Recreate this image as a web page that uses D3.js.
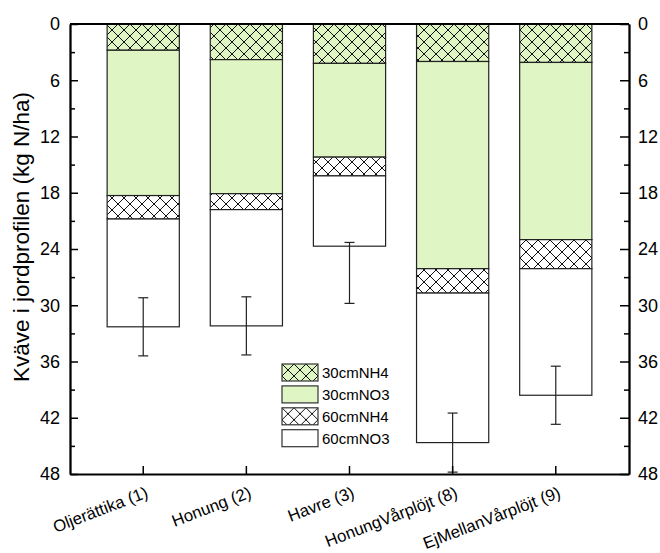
<!DOCTYPE html>
<html>
<head>
<meta charset="utf-8">
<script src="https://cdn.jsdelivr.net/npm/d3@7"></script>
<style>
  body { margin: 0; background: #fff; }
  svg { font-family: "Liberation Sans", Arial, sans-serif; }
</style>
</head>
<body>
<svg id="chart" width="660" height="553"></svg>
<script>
// data (kg N/ha)
var categories = ["Oljerättika (1)", "Honung (2)", "Havre (3)", "HonungVårplöjt (8)", "EjMellanVårplöjt (9)"];
var seriesKeys = ["30cmNH4", "30cmNO3", "60cmNH4", "60cmNO3"];
var nh4_30 = [2.8, 3.8, 4.2, 4.0, 4.1];
var no3_30 = [15.5, 14.3, 10.0, 22.1, 18.9];
var nh4_60 = [2.5, 1.7, 2.0, 2.6, 3.1];
var no3_60 = [11.5, 12.4, 7.5, 15.95, 13.5];
var errCenter = [32.3, 32.2, 26.55, 44.65, 39.6];
var errSd = [3.1, 3.1, 3.25, 3.15, 3.1];
var yTicks = [0, 6, 12, 18, 24, 30, 36, 42, 48];
var yMinorTicks = [3, 9, 15, 21, 27, 33, 39, 45];

var green = "#dff5c3";
var fills = {
  "30cmNH4": "url(#hatchGreen)",
  "30cmNO3": green,
  "60cmNH4": "url(#hatchWhite)",
  "60cmNO3": "#fff"
};

var margin = { top: 24, right: 31, bottom: 79, left: 70 };
var width = 660 - margin.left - margin.right;
var height = 553 - margin.top - margin.bottom;

var svg = d3.select("#chart");

// crosshatch patterns
var defs = svg.append("defs");
[["hatchGreen", green], ["hatchWhite", "#fff"]].forEach(function (p) {
  var pat = defs.append("pattern")
    .attr("id", p[0])
    .attr("patternUnits", "userSpaceOnUse")
    .attr("width", 12)
    .attr("height", 12);
  pat.append("rect").attr("width", 12).attr("height", 12).attr("fill", p[1]);
  pat.append("path")
    .attr("d", "M0,0L12,12M12,0L0,12M-3,9L3,15M9,-3L15,3M-3,3L3,-3M9,15L15,9")
    .attr("stroke", "#111")
    .attr("stroke-width", 1);
});

var g = svg.append("g").attr("transform", "translate(" + margin.left + "," + margin.top + ")");

var table = categories.map(function (c, i) {
  return { cat: c, "30cmNH4": nh4_30[i], "30cmNO3": no3_30[i], "60cmNH4": nh4_60[i], "60cmNO3": no3_60[i] };
});

var stacked = d3.stack().keys(seriesKeys)(table);

var x = d3.scaleBand()
  .domain(categories)
  .range([0, width])
  .paddingInner(0.3)
  .paddingOuter(0.36);

var y = d3.scaleLinear().domain([0, 48]).range([0, height]);

// bars
g.append("g")
  .selectAll("g")
  .data(stacked)
  .join("g")
  .attr("fill", d => fills[d.key])
  .selectAll("rect")
  .data(d => d)
  .join("rect")
  .attr("x", d => x(d.data.cat))
  .attr("y", d => y(d[0]))
  .attr("width", x.bandwidth())
  .attr("height", d => y(d[1]) - y(d[0]))
  .attr("stroke", "#222")
  .attr("stroke-width", 1.2);

// error bars
var err = g.append("g")
  .attr("stroke", "#222")
  .attr("stroke-width", 1.2)
  .selectAll("g")
  .data(categories)
  .join("g")
  .attr("transform", d => "translate(" + (x(d) + x.bandwidth() / 2) + ",0)");

err.append("line")
  .attr("y1", (d, i) => y(errCenter[i] - errSd[i]))
  .attr("y2", (d, i) => y(errCenter[i] + errSd[i]));
err.append("line")
  .attr("x1", -5).attr("x2", 5)
  .attr("y1", (d, i) => y(errCenter[i] - errSd[i]))
  .attr("y2", (d, i) => y(errCenter[i] - errSd[i]));
err.append("line")
  .attr("x1", -5).attr("x2", 5)
  .attr("y1", (d, i) => y(errCenter[i] + errSd[i]))
  .attr("y2", (d, i) => y(errCenter[i] + errSd[i]));

// axes
function styleAxis(sel) {
  sel.select(".domain").attr("stroke", "#000").attr("stroke-width", 1.8);
  sel.selectAll(".tick line").attr("stroke", "#000").attr("stroke-width", 1.5);
  sel.selectAll(".tick text").attr("fill", "#000").style("font-size", "18px")
    .style("font-family", "'Liberation Sans', Arial, sans-serif");
}

g.append("g")
  .call(d3.axisLeft(y).tickValues(yTicks).tickSizeInner(-8).tickSizeOuter(0).tickPadding(10))
  .call(styleAxis);
g.append("g")
  .call(d3.axisLeft(y).tickValues(yMinorTicks).tickSizeInner(-5).tickSizeOuter(0).tickFormat(""))
  .call(styleAxis);
g.append("g")
  .attr("transform", "translate(" + width + ",0)")
  .call(d3.axisRight(y).tickValues(yTicks).tickSizeInner(-9).tickSizeOuter(0).tickPadding(9))
  .call(styleAxis);
g.append("g")
  .attr("transform", "translate(" + width + ",0)")
  .call(d3.axisRight(y).tickValues(yMinorTicks).tickSizeInner(-5).tickSizeOuter(0).tickFormat(""))
  .call(styleAxis);

var xAxis = g.append("g")
  .attr("transform", "translate(0," + height + ")")
  .call(d3.axisBottom(x).tickSizeInner(-8).tickSizeOuter(0).tickPadding(0))
  .call(styleAxis);
xAxis.selectAll(".tick text")
  .style("font-size", "16.7px")
  .attr("text-anchor", "end")
  .attr("dy", null)
  .attr("y", null)
  .attr("transform", "translate(6,23) rotate(-21)");

// top frame line
g.append("line")
  .attr("x1", 0).attr("x2", width)
  .attr("y1", 0).attr("y2", 0)
  .attr("stroke", "#000")
  .attr("stroke-width", 1.8);

// y label
svg.append("text")
  .attr("transform", "translate(29,237) rotate(-90)")
  .attr("text-anchor", "middle")
  .style("font-size", "22.5px")
  .text("Kväve i jordprofilen (kg N/ha)");

// legend
var legend = svg.append("g")
  .attr("transform", "translate(282,364)")
  .selectAll("g")
  .data(seriesKeys)
  .join("g")
  .attr("transform", (d, i) => "translate(0," + i * 21.9 + ")");
legend.append("rect")
  .attr("width", 36)
  .attr("height", 17)
  .attr("fill", d => fills[d])
  .attr("stroke", "#333")
  .attr("stroke-width", 1.2);
legend.append("text")
  .attr("x", 40)
  .attr("y", 14)
  .style("font-size", "15px")
  .text(d => d);
</script>
</body>
</html>
